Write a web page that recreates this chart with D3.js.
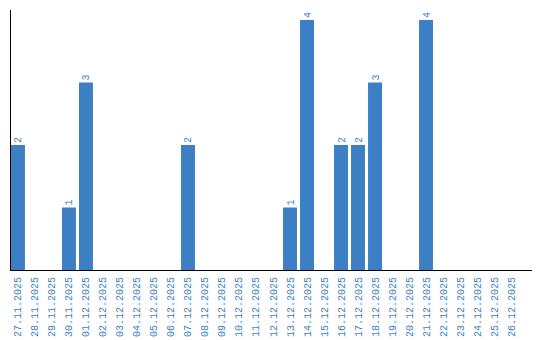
<!DOCTYPE html>
<html>
<head>
<meta charset="utf-8">
<script src="https://cdn.jsdelivr.net/npm/d3@7"></script>
<style>
  body { margin: 0; background: #fff; }
  text { font-family: "Liberation Mono", monospace; font-size: 10px; fill: #3c7fc5; }
</style>
</head>
<body>
<svg id="chart" width="540" height="340"></svg>
<script>
const dates = [
  '27.11.2025', '28.11.2025', '29.11.2025', '30.11.2025', '01.12.2025',
  '02.12.2025', '03.12.2025', '04.12.2025', '05.12.2025', '06.12.2025',
  '07.12.2025', '08.12.2025', '09.12.2025', '10.12.2025', '11.12.2025',
  '12.12.2025', '13.12.2025', '14.12.2025', '15.12.2025', '16.12.2025',
  '17.12.2025', '18.12.2025', '19.12.2025', '20.12.2025', '21.12.2025',
  '22.12.2025', '23.12.2025', '24.12.2025', '25.12.2025', '26.12.2025'
];
const counts = [2, 0, 0, 1, 3, 0, 0, 0, 0, 0, 2, 0, 0, 0, 0, 0, 1, 4, 0, 2, 2, 3, 0, 0, 4, 0, 0, 0, 0, 0];

const svg = d3.select('#chart');
const barColor = '#3c7fc5';
const labelFont = '"Liberation Mono", monospace';

const x = d3.scaleBand()
  .domain(dates)
  .range([11, 518])
  .paddingInner(0.18)
  .paddingOuter(0);

const y = d3.scaleLinear()
  .domain([0, 4])
  .range([270, 20]);

const data = dates.map((d, i) => ({ date: d, value: counts[i] }));

// bars
svg.append('g')
  .selectAll('rect')
  .data(data.filter(d => d.value > 0))
  .join('rect')
  .attr('x', d => x(d.date))
  .attr('y', d => y(d.value))
  .attr('width', x.bandwidth())
  .attr('height', d => y(0) - y(d.value))
  .attr('fill', barColor);

// value labels, rotated above the bars
svg.append('g')
  .selectAll('text')
  .data(data.filter(d => d.value > 0))
  .join('text')
  .attr('transform', d => `translate(${x(d.date) + x.bandwidth() / 2},${y(d.value) - 2}) rotate(-90)`)
  .attr('dy', '0.35em')
  .attr('text-anchor', 'start')
  .text(d => d.value);

// x axis: labels only, line drawn below
const xAxis = svg.append('g')
  .attr('transform', 'translate(0,270)')
  .call(d3.axisBottom(x).tickSize(0).tickPadding(0));
xAxis.select('.domain').remove();
xAxis.selectAll('text')
  .attr('transform', 'translate(0,7) rotate(-90)')
  .attr('y', 0)
  .attr('x', 0)
  .attr('dy', '0.35em')
  .attr('text-anchor', 'end')
  .style('font-family', labelFont)
  .style('font-size', '10px')
  .style('fill', barColor);

// axis lines
svg.append('line')
  .attr('x1', 10.5).attr('x2', 10.5)
  .attr('y1', 10).attr('y2', 270)
  .attr('stroke', '#000');
svg.append('line')
  .attr('x1', 10).attr('x2', 532)
  .attr('y1', 270.5).attr('y2', 270.5)
  .attr('stroke', '#000');
</script>
</body>
</html>
